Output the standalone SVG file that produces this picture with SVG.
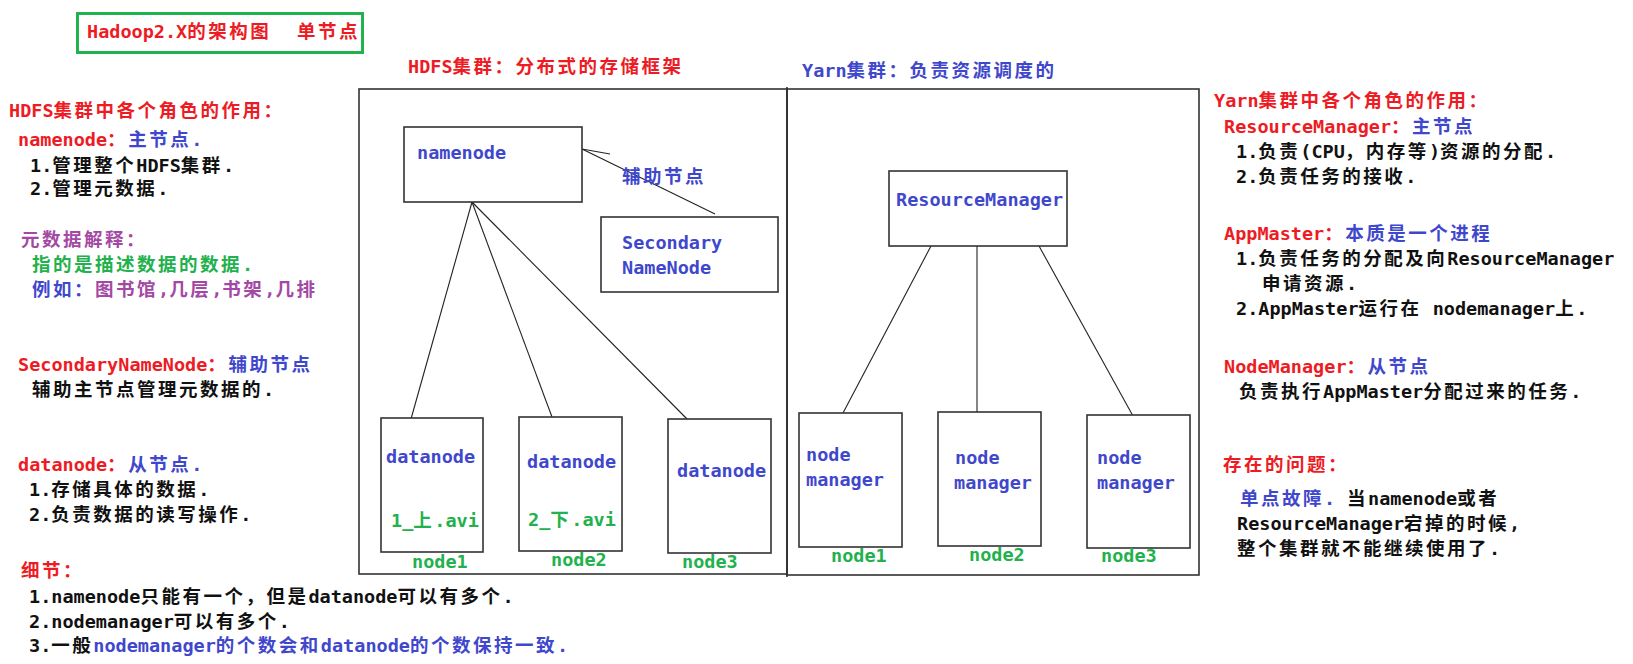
<svg xmlns="http://www.w3.org/2000/svg" width="1633" height="664" viewBox="0 0 1633 664">
<style>
.t{font-family:"DejaVu Sans Mono","Noto Sans CJK SC",monospace;font-size:18.5px;font-weight:bold}
.w{letter-spacing:2.5px}
.r{fill:#ed1c24}.b{fill:#3f48cc}.g{fill:#22b14c}.p{fill:#a349a4}.k{fill:#111}
.box{fill:#fff;stroke:#333;stroke-width:1.6}
.frame{fill:none;stroke:#333;stroke-width:1.6}
.ln{stroke:#222;stroke-width:1.1;fill:none}
</style>
<rect width="1633" height="664" fill="#fff"/>

<g id="title">
<rect x="77.5" y="13.5" width="285" height="39" fill="none" stroke="#22b14c" stroke-width="3"/>
<text x="87" y="38" class="t r">Hadoop2.X<tspan class="w">的架构图</tspan></text>
<text x="297" y="38" class="t r w">单节点</text>
</g>

<g id="hdfs-cluster">
<rect class="frame" x="359" y="89" width="428" height="485"/>
<text x="408" y="73" class="t r">HDFS<tspan class="w">集群：分布式的存储框架</tspan></text>
</g>
<g id="yarn-cluster">
<rect class="frame" x="787" y="89" width="412" height="486"/>
<line x1="787" y1="87" x2="787" y2="577" stroke="#333" stroke-width="1.6"/>
<text x="802" y="77" class="t b">Yarn<tspan class="w">集群：负责资源调度的</tspan></text>
</g>

<g id="connectors">
<line class="ln" x1="715" y1="214" x2="582" y2="149"/>
<line class="ln" x1="582" y1="149" x2="610" y2="154"/>
<line class="ln" x1="472" y1="202" x2="411" y2="419"/>
<line class="ln" x1="472" y1="202" x2="552" y2="417"/>
<line class="ln" x1="472" y1="202" x2="689" y2="421"/>
<line class="ln" x1="931" y1="246" x2="843" y2="413"/>
<line class="ln" x1="977" y1="246" x2="977" y2="414"/>
<line class="ln" x1="1039" y1="246" x2="1133" y2="416"/>
<text x="622" y="183" class="t b w">辅助节点</text>
</g>

<g id="namenode">
<rect class="box" x="404" y="127" width="178" height="75"/>
<text x="417" y="159" class="t b">namenode</text>
</g>
<g id="secondary-namenode">
<rect class="box" x="601" y="217" width="177" height="75"/>
<text x="622" y="249" class="t b">Secondary</text>
<text x="622" y="274" class="t b">NameNode</text>
</g>
<g id="datanode1">
<rect class="box" x="381" y="418" width="102" height="134"/>
<text x="386" y="463" class="t b">datanode</text>
<text x="391" y="527" class="t g">1_<tspan class="w">上</tspan>.avi</text>
<text x="412" y="568" class="t g">node1</text>
</g>
<g id="datanode2">
<rect class="box" x="519" y="417" width="103" height="134"/>
<text x="527" y="468" class="t b">datanode</text>
<text x="528" y="526" class="t g">2_<tspan class="w">下</tspan>.avi</text>
<text x="551" y="566" class="t g">node2</text>
</g>
<g id="datanode3">
<rect class="box" x="668" y="419" width="103" height="134"/>
<text x="677" y="477" class="t b">datanode</text>
<text x="682" y="568" class="t g">node3</text>
</g>

<g id="resourcemanager">
<rect class="box" x="889" y="171" width="178" height="75"/>
<text x="896" y="206" class="t b">ResourceManager</text>
</g>
<g id="nodemanager1">
<rect class="box" x="799" y="413" width="103" height="134"/>
<text x="806" y="461" class="t b">node</text>
<text x="806" y="486" class="t b">manager</text>
<text x="831" y="562" class="t g">node1</text>
</g>
<g id="nodemanager2">
<rect class="box" x="938" y="412" width="103" height="134"/>
<text x="955" y="464" class="t b">node</text>
<text x="954" y="489" class="t b">manager</text>
<text x="969" y="561" class="t g">node2</text>
</g>
<g id="nodemanager3">
<rect class="box" x="1087" y="415" width="103" height="133"/>
<text x="1097" y="464" class="t b">node</text>
<text x="1097" y="489" class="t b">manager</text>
<text x="1101" y="562" class="t g">node3</text>
</g>

<g id="hdfs-notes">
<text x="9" y="117" class="t r">HDFS<tspan class="w">集群中各个角色的作用：</tspan></text>
<text x="18" y="146" class="t r">namenode<tspan class="w">：</tspan><tspan class="w b">主节点</tspan><tspan class="b">.</tspan></text>
<text x="30" y="172" class="t k">1.<tspan class="w">管理整个</tspan>HDFS<tspan class="w">集群</tspan>.</text>
<text x="30" y="195" class="t k">2.<tspan class="w">管理元数据</tspan>.</text>
<text x="21" y="246" class="t p w">元数据解释：</text>
<text x="32" y="271" class="t g"><tspan class="w">指的是描述数据的数据</tspan>.</text>
<text x="32" y="296" class="t p"><tspan class="w b">例如：</tspan><tspan class="w">图书馆</tspan>,<tspan class="w">几层</tspan>,<tspan class="w">书架</tspan>,<tspan class="w">几排</tspan></text>
<text x="18" y="371" class="t r">SecondaryNameNode<tspan class="w">：</tspan><tspan class="w b">辅助节点</tspan></text>
<text x="32" y="396" class="t k"><tspan class="w">辅助主节点管理元数据的</tspan>.</text>
<text x="18" y="471" class="t r">datanode<tspan class="w">：</tspan><tspan class="w b">从节点</tspan><tspan class="b">.</tspan></text>
<text x="29" y="496" class="t k">1.<tspan class="w">存储具体的数据</tspan>.</text>
<text x="29" y="521" class="t k">2.<tspan class="w">负责数据的读写操作</tspan>.</text>
<text x="21" y="577" class="t r w">细节：</text>
<text x="29" y="603" class="t k">1.namenode<tspan class="w">只能有一个，但是</tspan>datanode<tspan class="w">可以有多个</tspan>.</text>
<text x="29" y="628" class="t k">2.nodemanager<tspan class="w">可以有多个</tspan>.</text>
<text x="29" y="652" class="t k">3.<tspan class="w">一般</tspan><tspan class="b">nodemanager<tspan class="w">的个数会和</tspan>datanode<tspan class="w">的个数保持一致</tspan>.</tspan></text>
</g>

<g id="yarn-notes">
<text x="1214" y="107" class="t r">Yarn<tspan class="w">集群中各个角色的作用：</tspan></text>
<text x="1224" y="133" class="t r">ResourceManager<tspan class="w">：</tspan><tspan class="w b">主节点</tspan></text>
<text x="1236" y="158" class="t k">1.<tspan class="w">负责</tspan>(CPU<tspan class="w">，内存等</tspan>)<tspan class="w">资源的分配</tspan>.</text>
<text x="1236" y="183" class="t k">2.<tspan class="w">负责任务的接收</tspan>.</text>
<text x="1224" y="240" class="t r">AppMaster<tspan class="w">：</tspan><tspan class="w b">本质是一个进程</tspan></text>
<text x="1236" y="265" class="t k">1.<tspan class="w">负责任务的分配及向</tspan>ResourceManager</text>
<text x="1262" y="290" class="t k"><tspan class="w">申请资源</tspan>.</text>
<text x="1236" y="315" class="t k">2.AppMaster<tspan class="w">运行在</tspan> nodemanager<tspan class="w">上</tspan>.</text>
<text x="1224" y="373" class="t r">NodeManager<tspan class="w">：</tspan><tspan class="w b">从节点</tspan></text>
<text x="1239" y="398" class="t k"><tspan class="w">负责执行</tspan>AppMaster<tspan class="w">分配过来的任务</tspan>.</text>
<text x="1223" y="471" class="t r w">存在的问题：</text>
<text x="1240" y="505" class="t b"><tspan class="w">单点故障</tspan>.</text>
<text x="1347" y="505" class="t k"><tspan class="w">当</tspan>namenode<tspan class="w">或者</tspan></text>
<text x="1237" y="530" class="t k">ResourceManager<tspan class="w">宕掉的时候</tspan>,</text>
<text x="1237" y="555" class="t k"><tspan class="w">整个集群就不能继续使用了</tspan>.</text>
</g>
</svg>
